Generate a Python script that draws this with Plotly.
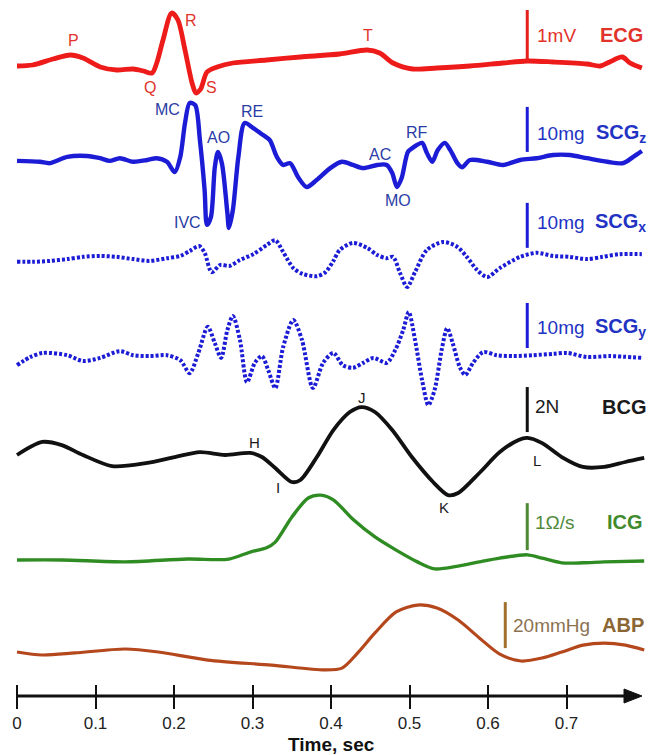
import plotly.graph_objects as go

# ---------------- recordings over one cardiac cycle (time in seconds) ----------------
ecg_t = [0.000, 0.020, 0.046, 0.068, 0.084, 0.106, 0.127, 0.148, 0.161, 0.172,
         0.178, 0.186, 0.197, 0.205, 0.214, 0.223, 0.228, 0.234, 0.242, 0.255,
         0.275, 0.318, 0.361, 0.411, 0.446, 0.462, 0.479, 0.504, 0.535, 0.577,
         0.619, 0.650, 0.683, 0.726, 0.743, 0.755, 0.771, 0.781, 0.796]
ecg_mv = [0.00, 0.02, 0.14, 0.22, 0.16, -0.02, -0.08, -0.06, -0.10, -0.14,
          0.06, 0.52, 1.06, 0.92, 0.32, -0.34, -0.54, -0.46, -0.12, -0.02,
          0.06, 0.12, 0.18, 0.24, 0.32, 0.26, 0.06, -0.06, -0.04, 0.00,
          0.06, 0.10, 0.08, 0.04, 0.00, 0.08, 0.18, 0.06, -0.04]

scgz_t = [0.000, 0.029, 0.042, 0.064, 0.089, 0.106, 0.118, 0.131, 0.148, 0.166,
          0.178, 0.191, 0.201, 0.208, 0.214, 0.220, 0.227, 0.233, 0.239, 0.242,
          0.247, 0.252, 0.256, 0.261, 0.268, 0.270, 0.275, 0.282, 0.290, 0.301,
          0.313, 0.322, 0.331, 0.339, 0.348, 0.358, 0.369, 0.382, 0.399, 0.414,
          0.428, 0.441, 0.459, 0.471, 0.478, 0.484, 0.490, 0.498, 0.504, 0.516,
          0.522, 0.529, 0.536, 0.545, 0.552, 0.561, 0.567, 0.577, 0.599, 0.619,
          0.641, 0.662, 0.683, 0.704, 0.726, 0.752, 0.772, 0.785, 0.796]
scgz_mg = [-0.2, -0.4, -0.7, 0.7, 0.9, 0.4, -0.2, 0.4, -0.4, 0.0,
           0.4, -0.4, -2.7, 0.7, 8.2, 12.7, 12.2, 4.4, -6.7, -14.4,
           -12.7, -1.6, 1.8, -0.7, -11.8, -15.1, -11.1, 0.7, 8.2, 7.1,
           5.6, 4.4, 0.7, -1.1, -0.7, -3.8, -6.0, -4.4, -1.8, -0.4,
           -1.1, -1.8, -1.1, -1.1, -2.9, -6.0, -4.0, 1.8, 2.7, 3.8,
           1.6, -0.4, 2.2, 3.8, 2.2, -0.7, -1.6, 0.0, -0.4, -1.1,
           0.0, 0.4, 1.1, 1.1, 0.4, -0.4, -0.7, 0.7, 2.0]

scgx_t = [0.000, 0.020, 0.042, 0.064, 0.084, 0.106, 0.127, 0.148, 0.169, 0.191,
          0.208, 0.220, 0.232, 0.239, 0.248, 0.259, 0.271, 0.284, 0.301, 0.318,
          0.329, 0.339, 0.352, 0.364, 0.382, 0.393, 0.403, 0.411, 0.428, 0.446,
          0.459, 0.471, 0.479, 0.488, 0.497, 0.507, 0.522, 0.543, 0.561, 0.573,
          0.586, 0.599, 0.615, 0.641, 0.662, 0.683, 0.704, 0.726, 0.746, 0.768,
          0.796]
scgx_mg = [-0.4, -0.4, -0.2, 0.2, 0.7, 0.9, 0.7, 0.2, -0.2, 0.4,
           0.9, 2.0, 3.1, 1.6, -2.7, -1.1, -1.3, 0.0, 1.3, 3.3,
           4.4, 1.8, -1.8, -3.1, -3.6, -2.7, -0.2, 2.2, 3.8, 2.7,
           1.1, 0.4, 0.7, -2.9, -6.0, -2.7, 2.2, 4.0, 2.9, 0.7,
           -2.2, -3.8, -1.8, 0.7, 1.6, 0.9, 0.7, 0.2, 0.7, 1.3,
           1.3]

scgy_t = [0.000, 0.017, 0.033, 0.064, 0.084, 0.106, 0.131, 0.148, 0.169, 0.191,
          0.208, 0.220, 0.231, 0.243, 0.252, 0.260, 0.268, 0.275, 0.284, 0.293,
          0.303, 0.312, 0.320, 0.329, 0.339, 0.352, 0.363, 0.377, 0.390, 0.403,
          0.415, 0.428, 0.441, 0.454, 0.471, 0.482, 0.492, 0.499, 0.507, 0.516,
          0.524, 0.532, 0.541, 0.548, 0.555, 0.564, 0.571, 0.581, 0.594, 0.611,
          0.632, 0.657, 0.683, 0.701, 0.726, 0.755, 0.796]
scgy_mg = [-1.8, 0.0, 0.9, 0.4, -0.9, -0.2, 1.3, 0.4, 0.2, 0.4,
           -0.7, -3.6, 0.9, 6.7, 3.1, -0.2, 6.0, 9.1, 3.8, -5.6,
           -1.3, 0.2, -2.9, -6.9, 2.2, 8.2, 3.8, -6.9, -1.3, 0.9,
           -1.8, -2.4, -1.3, -0.2, -1.3, 1.6, 6.0, 10.0, 3.8, -5.1,
           -10.7, -7.3, 1.6, 6.4, 3.1, -2.2, -4.0, -1.3, 1.1, 0.4,
           0.2, 0.4, 0.7, 0.9, 0.0, 0.2, -0.2]

bcg_t = [0.000, 0.032, 0.057, 0.084, 0.121, 0.164, 0.201, 0.233, 0.265, 0.297,
         0.312, 0.329, 0.350, 0.361, 0.382, 0.403, 0.424, 0.439, 0.456, 0.478,
         0.503, 0.530, 0.549, 0.562, 0.589, 0.615, 0.639, 0.650, 0.669, 0.694,
         0.721, 0.748, 0.775, 0.799]
bcg_n = [0.00, 0.58, 0.44, 0.00, -0.49, -0.36, -0.09, 0.13, 0.00, 0.09,
         -0.09, -0.58, -1.20, -1.11, -0.09, 1.11, 1.91, 2.13, 1.91, 1.11,
         -0.09, -1.20, -1.78, -1.69, -0.80, 0.13, 0.67, 0.76, 0.53, -0.09,
         -0.53, -0.53, -0.31, -0.13]

icg_t = [0.000, 0.057, 0.138, 0.217, 0.270, 0.297, 0.318, 0.329, 0.350, 0.371,
         0.387, 0.403, 0.429, 0.456, 0.483, 0.510, 0.532, 0.562, 0.589, 0.615,
         0.650, 0.669, 0.694, 0.721, 0.748, 0.799]
icg_ohm_s = [0.00, 0.00, -0.04, 0.02, 0.02, 0.17, 0.26, 0.38, 0.91, 1.32,
             1.38, 1.28, 0.85, 0.49, 0.21, -0.04, -0.19, -0.13, -0.04, 0.04,
             0.11, 0.04, -0.06, -0.06, -0.04, -0.02]

abp_t = [0.000, 0.032, 0.074, 0.138, 0.180, 0.243, 0.324, 0.392, 0.414, 0.434,
         0.456, 0.483, 0.510, 0.535, 0.562, 0.589, 0.615, 0.642, 0.669, 0.694,
         0.721, 0.748, 0.775, 0.799]
abp_mmhg = [80.0, 78.7, 79.6, 81.3, 80.0, 76.5, 74.3, 72.2, 73.0, 79.6,
            88.3, 97.4, 100.4, 99.1, 93.9, 86.1, 79.1, 76.1, 77.4, 80.0,
            83.0, 83.9, 83.0, 80.9]

tick_vals = [0.0, 0.1, 0.2, 0.3, 0.4, 0.5, 0.6, 0.7]
tick_text = ["0", "0.1", "0.2", "0.3", "0.4", "0.5", "0.6", "0.7"]

# ---------------- page geometry ----------------
W, H = 652, 755
SEC_PX = 785.0      # horizontal pixels per second
T0_PX = 17.0        # pixel column of t = 0
AXIS_PX = 696       # row of the time axis line
FONT = "Liberation Sans, Arial, Helvetica, sans-serif"


def t_at(px):
    return (px - T0_PX) / SEC_PX


def paper_y(py):
    return 1.0 - py / H


RED, BLUE, BLACK = "#ee1b1b", "#1c1cd6", "#111111"
GREEN, BROWN = "#2f8c22", "#b4471c"

# each trace gets its own invisible y axis: base_px is the row of base_val,
# px_per_unit is the vertical gain in the trace's physical unit
panels = [
    dict(t=ecg_t, v=ecg_mv, color=RED, width=4.8, dash="solid",
         base_px=66, base_val=0.0, px_per_unit=50.0,
         bar_t=0.650, bar_lo=0.12, bar_len=1.0, bar_color="#e3201c"),
    dict(t=scgz_t, v=scgz_mg, color=BLUE, width=4.4, dash="solid",
         base_px=160, base_val=0.0, px_per_unit=4.5,
         bar_t=0.650, bar_lo=1.8, bar_len=10.0, bar_color="#1c1cd6"),
    dict(t=scgx_t, v=scgx_mg, color=BLUE, width=4.0, dash="3px,2px",
         base_px=260, base_val=0.0, px_per_unit=4.5,
         bar_t=0.650, bar_lo=2.7, bar_len=10.0, bar_color="#1c1cd6"),
    dict(t=scgy_t, v=scgy_mg, color=BLUE, width=4.0, dash="3px,2px",
         base_px=357, base_val=0.0, px_per_unit=4.5,
         bar_t=0.650, bar_lo=2.0, bar_len=10.0, bar_color="#1c1cd6"),
    dict(t=bcg_t, v=bcg_n, color=BLACK, width=3.8, dash="solid",
         base_px=455, base_val=0.0, px_per_unit=22.5,
         bar_t=0.650, bar_lo=1.02, bar_len=2.0, bar_color=BLACK),
    dict(t=icg_t, v=icg_ohm_s, color=GREEN, width=3.4, dash="solid",
         base_px=560, base_val=0.0, px_per_unit=47.0,
         bar_t=0.650, bar_lo=0.21, bar_len=1.0, bar_color="#4d8a36"),
    dict(t=abp_t, v=abp_mmhg, color=BROWN, width=3.2, dash="solid",
         base_px=652, base_val=80.0, px_per_unit=2.3,
         bar_t=0.622, bar_lo=81.7, bar_len=20.0, bar_color="#a3702e"),
]

fig = go.Figure()
layout_axes = {}
shapes = []

for i, p in enumerate(panels):
    ref = "y" if i == 0 else f"y{i + 1}"
    key = "yaxis" if i == 0 else f"yaxis{i + 1}"
    s = p["px_per_unit"]
    lo = p["base_val"] + (p["base_px"] - H) / s
    hi = p["base_val"] + p["base_px"] / s
    ax = dict(domain=[0, 1], range=[lo, hi], visible=False, fixedrange=True)
    if i > 0:
        ax["overlaying"] = "y"
    layout_axes[key] = ax

    fig.add_trace(go.Scatter(
        x=p["t"], y=p["v"], mode="lines", yaxis=ref, xaxis="x",
        line=dict(color=p["color"], width=p["width"], dash=p["dash"],
                  shape="spline", smoothing=0.8),
        hoverinfo="skip", showlegend=False))

    # calibration bar
    shapes.append(dict(type="line", xref="x", yref=ref,
                       x0=p["bar_t"], x1=p["bar_t"],
                       y0=p["bar_lo"], y1=p["bar_lo"] + p["bar_len"],
                       line=dict(color=p["bar_color"], width=3)))

# time axis line with arrow head
shapes.append(dict(type="line", xref="x", yref="paper",
                   x0=0.0, x1=t_at(626), y0=paper_y(AXIS_PX), y1=paper_y(AXIS_PX),
                   line=dict(color=BLACK, width=3)))
shapes.append(dict(type="path", xref="x", yref="paper",
                   path=(f"M {t_at(624)},{paper_y(AXIS_PX - 7)} "
                         f"L {t_at(642)},{paper_y(AXIS_PX)} "
                         f"L {t_at(624)},{paper_y(AXIS_PX + 7)} Z"),
                   fillcolor=BLACK, line=dict(color=BLACK, width=1)))

annotations = []


def label(text, x_px, y_px, color, size=16, bold=False, anchor="center"):
    annotations.append(dict(
        text=f"<b>{text}</b>" if bold else text,
        x=t_at(x_px), y=paper_y(y_px), xref="x", yref="paper",
        xanchor=anchor, yanchor="middle", showarrow=False,
        font=dict(family=FONT, size=size, color=color)))


# waveform landmarks
ECG_TXT = "#e2332b"
for txt, x, y in [("P", 73, 41), ("R", 191, 20), ("Q", 150, 87), ("S", 211, 87), ("T", 368, 35)]:
    label(txt, x, y, ECG_TXT, 16)
SCG_TXT = "#2a3ca6"
for txt, x, y in [("MC", 167, 110), ("AO", 218, 138), ("RE", 252, 112), ("IVC", 187, 223),
                  ("AC", 380, 154), ("RF", 417, 132), ("MO", 398, 200)]:
    label(txt, x, y, SCG_TXT, 16)
for txt, x, y in [("H", 254, 442), ("I", 278, 487), ("J", 362, 397), ("K", 444, 507), ("L", 537, 460)]:
    label(txt, x, y, "#1a1a1a", 15)

# calibration and channel names
label("1mV", 535, 35, ECG_TXT, 19, anchor="left")
label("ECG", 645, 35, ECG_TXT, 20, bold=True, anchor="right")
for y in (133, 222, 327):
    label("10mg", 535, y, "#2233c4", 19, anchor="left")
label("SCG<sub>z</sub>", 648, 133, "#2233c4", 20, bold=True, anchor="right")
label("SCG<sub>x</sub>", 648, 222, "#2233c4", 20, bold=True, anchor="right")
label("SCG<sub>y</sub>", 648, 327, "#2233c4", 20, bold=True, anchor="right")
label("2N", 533, 407, "#1a1a1a", 19, anchor="left")
label("BCG", 648, 407, "#1a1a1a", 20, bold=True, anchor="right")
label("1\u03a9/s", 533, 522, "#4f8a3c", 19, anchor="left")
label("ICG", 645, 522, "#3f8a2c", 20, bold=True, anchor="right")
label("20mmHg", 511, 625, "#8c7352", 19, anchor="left")
label("ABP", 646, 625, "#8a6634", 20, bold=True, anchor="right")

label("Time, sec", 331, 744, "#111111", 19, bold=True)

fig.update_layout(
    width=W, height=H,
    margin=dict(l=0, r=0, t=0, b=0),
    paper_bgcolor="white", plot_bgcolor="white",
    showlegend=False,
    xaxis=dict(range=[t_at(0), t_at(W)], anchor="free", position=paper_y(AXIS_PX - 12),
               showline=False, showgrid=False, zeroline=False, fixedrange=True,
               tickmode="array", tickvals=tick_vals, ticktext=tick_text,
               ticks="outside", ticklen=24, tickwidth=2, tickcolor=BLACK,
               tickfont=dict(family=FONT, size=17, color="#222222")),
    shapes=shapes,
    annotations=annotations,
    **layout_axes,
)

fig.write_html("out.html")
